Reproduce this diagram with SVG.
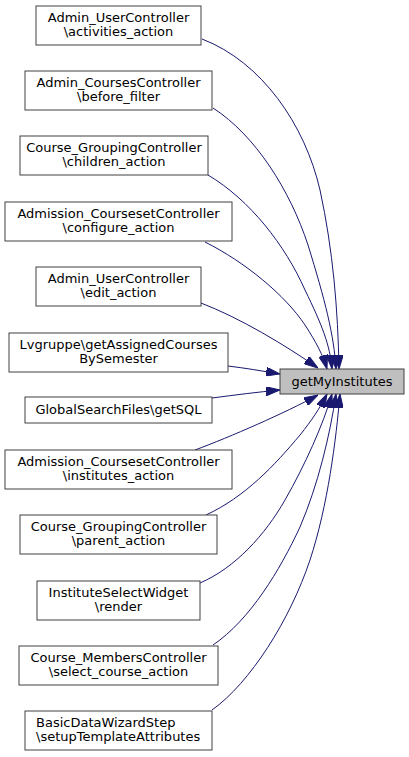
<svg xmlns="http://www.w3.org/2000/svg" width="409" height="757" viewBox="0 0 409 757">
<style>
  .node rect { fill: #ffffff; stroke: #404040; stroke-width: 1; }
  .node.target rect { fill: #bfbfbf; }
  text { font-family: "DejaVu Sans", "Liberation Sans", sans-serif; font-size: 13px; fill: #000000; }
  .c { text-anchor: middle; }
  .edges path { fill: none; stroke: #191970; stroke-width: 1; marker-end: url(#arrow); }
</style>
<defs>
  <marker id="arrow" markerUnits="userSpaceOnUse" viewBox="0 0 14 9" markerWidth="14" markerHeight="9" refX="14" refY="4.5" orient="auto">
    <path d="M0,0 L14,4.5 L0,9 z" fill="#191970" stroke="#191970" stroke-width="1"/>
  </marker>
</defs>
<rect x="0" y="0" width="409" height="757" fill="#ffffff"/>

<g id="edges" class="edges">
  <path d="M202,39 C262,62 305,125 320,190 C333,250 338,310 339,369"/>
  <path d="M213,108 C255,135 290,190 308,245 C325,300 334,335 336,369"/>
  <path d="M208,175 C250,200 285,245 305,290 C322,325 330,345 332,369"/>
  <path d="M205,242 C245,262 285,295 305,325 C316,342 323,355 327,369"/>
  <path d="M201,303 C240,318 285,345 318,368"/>
  <path d="M228,366 C245,368 262,371 280,374"/>
  <path d="M212,398 C235,395 258,392 280,390"/>
  <path d="M195,450 C230,437 285,413 318,395"/>
  <path d="M206,515 C245,497 275,465 300,435 C312,420 320,408 327,394"/>
  <path d="M200,583 C235,568 265,535 285,500 C305,465 323,425 332,394"/>
  <path d="M213,645 C250,620 280,570 300,527 C318,485 330,435 336,394"/>
  <path d="M212,710 C250,683 290,620 310,560 C328,505 336,440 340,394"/>
</g>

<g id="getMyInstitutes" class="node target">
  <rect x="280" y="369" width="124" height="25"/>
  <text class="c" x="342" y="386">getMyInstitutes</text>
</g>
<g id="n1" class="node">
  <rect x="36" y="6" width="165" height="39"/>
  <text class="c" x="118.5" y="22">Admin_UserController</text>
  <text class="c" x="118.5" y="36">\activities_action</text>
</g>
<g id="n2" class="node">
  <rect x="25" y="71" width="187" height="39"/>
  <text class="c" x="118.5" y="87">Admin_CoursesController</text>
  <text class="c" x="118.5" y="101">\before_filter</text>
</g>
<g id="n3" class="node">
  <rect x="20" y="136" width="188" height="39"/>
  <text class="c" x="114" y="152">Course_GroupingController</text>
  <text class="c" x="114" y="166">\children_action</text>
</g>
<g id="n4" class="node">
  <rect x="5" y="202" width="227" height="39"/>
  <text class="c" x="118.5" y="218">Admission_CoursesetController</text>
  <text class="c" x="118.5" y="232">\configure_action</text>
</g>
<g id="n5" class="node">
  <rect x="36" y="267" width="165" height="39"/>
  <text class="c" x="118.5" y="283">Admin_UserController</text>
  <text class="c" x="118.5" y="297">\edit_action</text>
</g>
<g id="n6" class="node">
  <rect x="9" y="333" width="219" height="39"/>
  <text class="c" x="118.5" y="349">Lvgruppe\getAssignedCourses</text>
  <text class="c" x="118.5" y="363">BySemester</text>
</g>
<g id="n7" class="node">
  <rect x="25" y="397" width="187" height="26"/>
  <text class="c" x="118.5" y="414">GlobalSearchFiles\getSQL</text>
</g>
<g id="n8" class="node">
  <rect x="5" y="450" width="227" height="39"/>
  <text class="c" x="118.5" y="466">Admission_CoursesetController</text>
  <text class="c" x="118.5" y="480">\institutes_action</text>
</g>
<g id="n9" class="node">
  <rect x="20" y="515" width="197" height="39"/>
  <text class="c" x="118.5" y="531">Course_GroupingController</text>
  <text class="c" x="118.5" y="545">\parent_action</text>
</g>
<g id="n10" class="node">
  <rect x="37" y="581" width="163" height="39"/>
  <text class="c" x="118.5" y="597">InstituteSelectWidget</text>
  <text class="c" x="118.5" y="611">\render</text>
</g>
<g id="n11" class="node">
  <rect x="19" y="646" width="199" height="39"/>
  <text class="c" x="118.5" y="662">Course_MembersController</text>
  <text class="c" x="118.5" y="676">\select_course_action</text>
</g>
<g id="n12" class="node">
  <rect x="25" y="711" width="187" height="39"/>
  <text x="36" y="727">BasicDataWizardStep</text>
  <text x="36" y="741">\setupTemplateAttributes</text>
</g>
</svg>
